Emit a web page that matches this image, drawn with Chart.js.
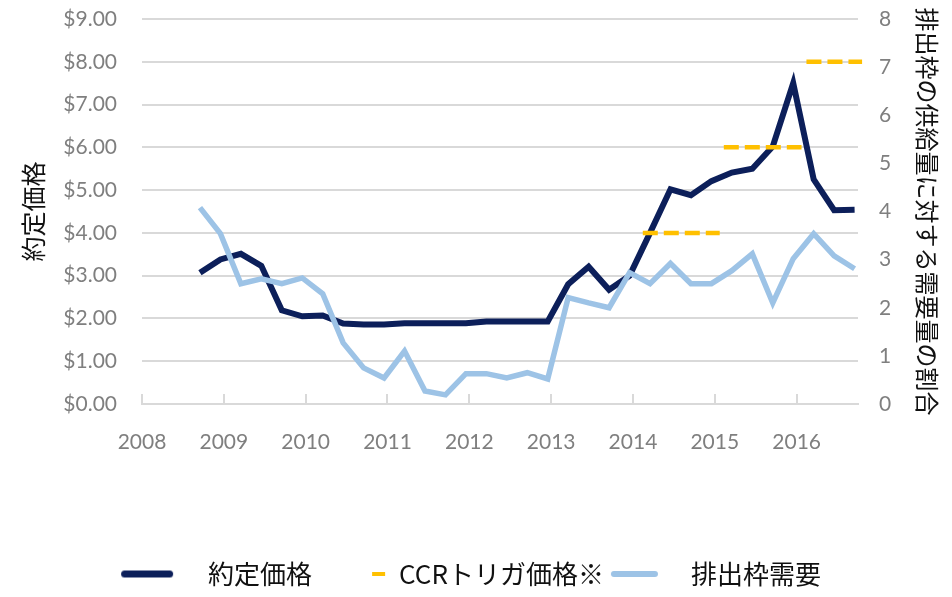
<!DOCTYPE html>
<html lang="ja">
<head>
<meta charset="utf-8">
<script src="https://cdn.jsdelivr.net/npm/chart.js@4.4.1/dist/chart.umd.min.js"></script>
<style>
  html, body { margin: 0; padding: 0; background: #fff; }
</style>
</head>
<body>
<canvas id="chart" width="952" height="597"></canvas>
<script>
// quarterly auction dates
const auctionDates = [
  '2008-09', '2008-12',
  '2009-03', '2009-06', '2009-09', '2009-12',
  '2010-03', '2010-06', '2010-09', '2010-12',
  '2011-03', '2011-06', '2011-09', '2011-12',
  '2012-03', '2012-06', '2012-09', '2012-12',
  '2013-03', '2013-06', '2013-09', '2013-12',
  '2014-03', '2014-06', '2014-09', '2014-12',
  '2015-03', '2015-06', '2015-09', '2015-12',
  '2016-03', '2016-06', '2016-09'
];

// 約定価格 ($)
const clearingPrice = [
  3.07, 3.38,
  3.51, 3.23, 2.19, 2.05,
  2.07, 1.88, 1.86, 1.86,
  1.89, 1.89, 1.89, 1.89,
  1.93, 1.93, 1.93, 1.93,
  2.80, 3.21, 2.67, 3.00,
  4.00, 5.02, 4.88, 5.21,
  5.41, 5.50, 6.02, 7.50,
  5.25, 4.53, 4.54
];

// 排出枠需要 (供給量に対する需要量の割合)
const demandRatio = [
  4.08, 3.54,
  2.50, 2.60, 2.50, 2.62,
  2.29, 1.27, 0.75, 0.54,
  1.10, 0.27, 0.19, 0.63,
  0.63, 0.54, 0.65, 0.52,
  2.21, 2.10, 2.00, 2.73,
  2.50, 2.92, 2.50, 2.50,
  2.77, 3.12, 2.10, 3.02,
  3.54, 3.08, 2.81
];

// CCRトリガ価格 segments (decimal years)
const ccrStart = [2014.12, 2015.11, 2016.12];
const ccrEnd = [2015.06, 2016.06, 2016.80];
const ccrPrice = [4, 6, 8];

const yearTicks = [2008, 2009, 2010, 2011, 2012, 2013, 2014, 2015, 2016];
const seriesNames = ['約定価格', 'CCRトリガ価格※', '排出枠需要'];

const NAVY = '#0c1f5a';
const GOLD = '#ffc000';
const LIGHT = '#9dc3e6';
const GRID = '#d9d9d9';
const TICK = '#7f7f7f';
const TICKFONT = 'Lato, "Liberation Sans", sans-serif';
const JP = '"Noto Sans CJK JP", "Noto Sans", sans-serif';

Chart.defaults.font.family = JP;

const toYear = s => {
  const [y, m] = s.split('-').map(Number);
  return y + (m - 0.5) / 12;
};

const priceData = auctionDates.map((d, i) => ({ x: toYear(d), y: clearingPrice[i] }));
const demandData = auctionDates.map((d, i) => ({ x: toYear(d), y: demandRatio[i] }));
const ccrData = [];
ccrPrice.forEach((p, i) => {
  if (i > 0) ccrData.push({ x: (ccrEnd[i - 1] + ccrStart[i]) / 2, y: null });
  ccrData.push({ x: ccrStart[i], y: p });
  ccrData.push({ x: ccrEnd[i], y: p });
});

// legend swatches, offsets are relative to the legend box centre
function makeSwatch(color, from, to, thickness, cap) {
  const half = Math.ceil(Math.max(Math.abs(from), Math.abs(to))) + 6;
  const c = document.createElement('canvas');
  c.width = half * 2;
  c.height = thickness + 6;
  const g = c.getContext('2d');
  g.strokeStyle = color;
  g.lineWidth = thickness;
  g.lineCap = cap;
  g.beginPath();
  g.moveTo(half + from, c.height / 2);
  g.lineTo(half + to, c.height / 2);
  g.stroke();
  return c;
}
const legendSwatches = [
  makeSwatch(NAVY, -50.5, -5.5, 7, 'round'),
  makeSwatch(GOLD, 6, 19, 4, 'butt'),
  makeSwatch(LIGHT, -44, -3, 6, 'round')
];

const defaultLabels = Chart.defaults.plugins.legend.labels.generateLabels;

new Chart(document.getElementById('chart'), {
  type: 'line',
  data: {
    datasets: [
      {
        label: seriesNames[0],
        data: priceData,
        yAxisID: 'y',
        borderColor: NAVY,
        backgroundColor: NAVY,
        borderWidth: 6,
        pointRadius: 0,
        tension: 0,
        order: 2
      },
      {
        label: seriesNames[1],
        data: ccrData,
        yAxisID: 'y',
        borderColor: GOLD,
        backgroundColor: GOLD,
        borderWidth: 4.5,
        borderDash: [15, 6],
        pointRadius: 0,
        spanGaps: false,
        clip: false,
        order: 1
      },
      {
        label: seriesNames[2],
        data: demandData,
        yAxisID: 'y1',
        borderColor: LIGHT,
        backgroundColor: LIGHT,
        borderWidth: 5.5,
        pointRadius: 0,
        tension: 0,
        order: 0
      }
    ]
  },
  options: {
    responsive: false,
    animation: false,
    events: [],
    layout: { padding: { top: 19, left: 24 } },
    plugins: {
      tooltip: { enabled: false },
      legend: {
        position: 'bottom',
        labels: {
          usePointStyle: true,
          pointStyleWidth: 40,
          padding: 34,
          color: '#111',
          font: { family: JP, size: 26 },
          sort: (a, b) => a.datasetIndex - b.datasetIndex,
          generateLabels: chart => defaultLabels(chart).map(item =>
            Object.assign(item, { pointStyle: legendSwatches[item.datasetIndex] }))
        }
      }
    },
    scales: {
      x: {
        type: 'linear',
        min: 2008,
        max: 2016.75,
        afterFit: s => { s.height = 123; },
        afterBuildTicks: s => { s.ticks = yearTicks.map(v => ({ value: v })); },
        ticks: {
          padding: 36,
          color: TICK,
          font: { family: TICKFONT, size: 21 },
          callback: v => String(v)
        },
        grid: { drawOnChartArea: false, tickLength: -10, color: GRID, lineWidth: 2 },
        border: { color: GRID, width: 2 }
      },
      y: {
        position: 'left',
        min: 0,
        max: 9,
        afterFit: s => { s.width = 118; },
        ticks: {
          stepSize: 1,
          padding: 0,
          color: TICK,
          font: { family: TICKFONT, size: 21 },
          callback: v => '$' + Number(v).toFixed(2)
        },
        grid: { color: GRID, lineWidth: 2, drawTicks: true, tickLength: 25, tickColor: 'rgba(0,0,0,0)' },
        border: { display: false },
        title: {
          display: true,
          text: '約定価格',
          color: '#111',
          font: { family: JP, size: 25, lineHeight: 0.6 },
          padding: { top: 1.5, bottom: 0 }
        }
      },
      y1: {
        position: 'right',
        min: 0,
        max: 8,
        afterFit: s => { s.width = 94; },
        ticks: {
          stepSize: 1,
          padding: 0,
          color: TICK,
          font: { family: TICKFONT, size: 21 }
        },
        grid: { drawOnChartArea: false, drawTicks: true, tickLength: 21, tickColor: 'rgba(0,0,0,0)' },
        border: { display: false },
        title: {
          display: true,
          text: '排出枠の供給量に対する需要量の割合',
          color: '#111',
          font: { family: JP, size: 24 },
          padding: { top: 10, bottom: 0 }
        }
      }
    }
  }
});
</script>
</body>
</html>
